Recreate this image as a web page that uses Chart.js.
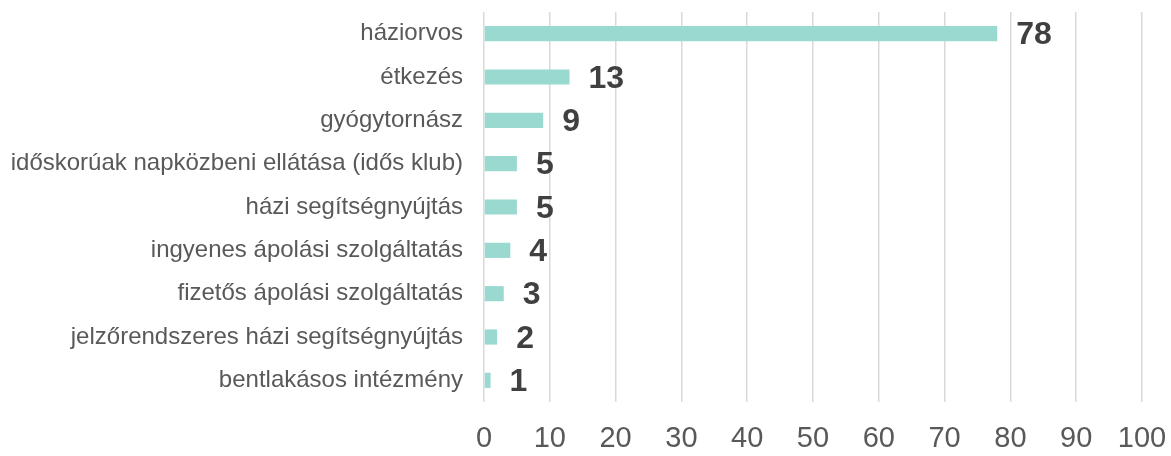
<!DOCTYPE html>
<html><head><meta charset="utf-8">
<script src="https://cdn.jsdelivr.net/npm/chart.js@4/dist/chart.umd.min.js"></script>
<style>html,body{margin:0;padding:0;background:#fff}#wrap{width:1171px;height:456px}</style>
</head><body><div id="wrap"><canvas id="c"></canvas></div>
<script>
const categories = ["háziorvos","étkezés","gyógytornász","időskorúak napközbeni ellátása (idős klub)","házi segítségnyújtás","ingyenes ápolási szolgáltatás","fizetős ápolási szolgáltatás","jelzőrendszeres házi segítségnyújtás","bentlakásos intézmény"];
const values = [78,13,9,5,5,4,3,2,1];
const xTicks = [0,10,20,30,40,50,60,70,80,90,100];

const valueLabels = {
  id: 'valueLabels',
  afterDatasetsDraw(chart) {
    const ctx = chart.ctx;
    const meta = chart.getDatasetMeta(0);
    ctx.save();
    ctx.font = 'bold 32px "Liberation Sans", Arial, sans-serif';
    ctx.fillStyle = '#404040';
    ctx.textBaseline = 'middle';
    ctx.textAlign = 'left';
    meta.data.forEach((bar, i) => {
      ctx.fillText(String(values[i]), bar.x + 19, bar.y + 2);
    });
    ctx.restore();
  }
};

new Chart(document.getElementById('c'), {
  type: 'bar',
  data: { labels: categories, datasets: [{ data: values, backgroundColor: '#9ad9d0', borderWidth: 0, barPercentage: 0.35, categoryPercentage: 1 }] },
  options: {
    indexAxis: 'y', responsive: true, maintainAspectRatio: false, animation: false,
    layout: { padding: 0 },
    plugins: { legend: { display: false }, tooltip: { enabled: false } },
    scales: {
      x: {
        min: 0, max: 100,
        afterBuildTicks: s => { s.ticks = xTicks.map(v => ({ value: v })); },
        afterFit: s => { s.height = 54; s.paddingLeft = 0; s.paddingRight = 29; },
        grid: { color: '#d9d9d9', lineWidth: 1.5, drawTicks: false },
        border: { display: false },
        ticks: { color: '#595959', font: { family: '"Liberation Sans", Arial, sans-serif', size: 29 }, padding: 20 }
      },
      y: {
        grid: { display: false, drawTicks: false },
        border: { display: false },
        afterFit: s => { s.width = 484; s.paddingTop = 12; s.paddingBottom = 0; },
        ticks: { color: '#595959', font: { family: '"Liberation Sans", Arial, sans-serif', size: 24 }, padding: 21 }
      }
    }
  },
  plugins: [valueLabels]
});
</script></body></html>
